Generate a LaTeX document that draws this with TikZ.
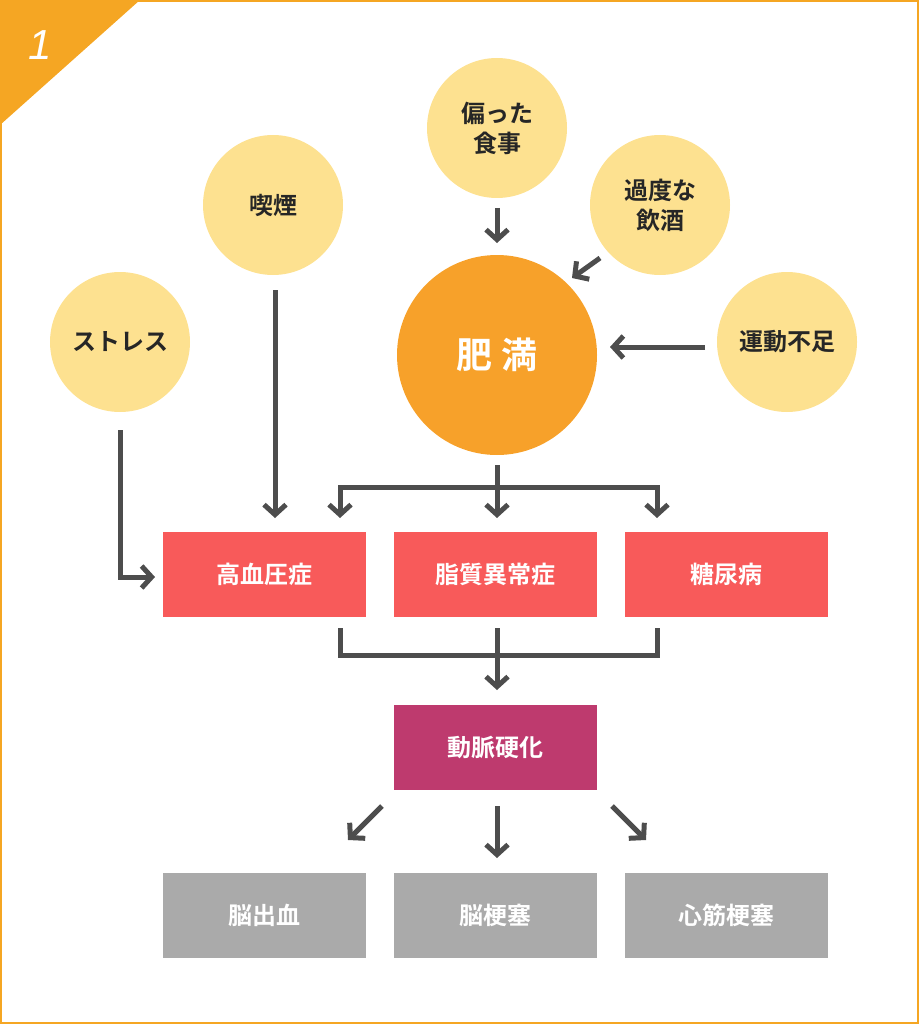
\documentclass[tikz,border=0pt]{standalone}
\usepackage{fontspec}
\setmainfont{Noto Sans CJK JP}[BoldFont={* Bold}]
\newfontfamily\numfont{Liberation Sans}
\usetikzlibrary{arrows.meta}
\definecolor{org}{HTML}{F5A623}
\definecolor{yel}{HTML}{FDE190}
\definecolor{fat}{HTML}{F7A12A}
\definecolor{red1}{HTML}{F85A5A}
\definecolor{vio}{HTML}{BE3A6E}
\definecolor{gry}{HTML}{AAAAAA}
\definecolor{arr}{HTML}{4D4D4D}
\begin{document}
\begin{tikzpicture}[x=1pt,y=-1pt,
 circ/.style={circle,fill=yel,minimum size=140pt,inner sep=0pt,align=center,font=\fontsize{24}{30}\selectfont\bfseries,text=black!85},
 box/.style={minimum width=203pt,minimum height=85pt,inner sep=0pt,font=\fontsize{24}{30}\selectfont\bfseries,text=white},
 ar/.style={draw=arr,line width=5pt,-{Straight Barb[length=10pt,width=22pt,line width=5pt]}},
 ln/.style={draw=arr,line width=5pt}]
\useasboundingbox (0,0) rectangle (919,1024);
\draw[org,line width=1.5pt] (1,1) rectangle (918,1023);
\fill[org] (0,0) -- (140,0) -- (0,125) -- cycle;
\node[text=white,font=\numfont\itshape\fontsize{42}{42}\selectfont] (one) at (40,45) {1};
\node[circ] (str) at (120,342) {ストレス};
\node[circ] (smk) at (273,205) {喫煙};
\node[circ] (diet) at (497,128) {偏った\\食事};
\node[circ] (alc) at (660,205) {過度な\\飲酒};
\node[circ] (exe) at (787,342) {運動不足};
\node[circle,fill=fat,minimum size=200pt,text=white,font=\fontsize{36}{40}\selectfont\bfseries] (fatn) at (497,355) {肥 満};
\node[box,fill=red1] (hyp) at (264.5,574.5) {高血圧症};
\node[box,fill=red1] (lip) at (495.5,574.5) {脂質異常症};
\node[box,fill=red1] (dia) at (726.5,574.5) {糖尿病};
\node[box,fill=vio] (ath) at (495.5,747.5) {動脈硬化};
\node[box,fill=gry] (g1) at (264.5,915.5) {脳出血};
\node[box,fill=gry] (g2) at (495.5,915.5) {脳梗塞};
\node[box,fill=gry] (g3) at (726.5,915.5) {心筋梗塞};
\coordinate (jn) at (497,487);
\coordinate (jb) at (497,655);
\draw[ar] (497,208) -- (497,243);
\draw[ar] (600,258) -- (572,278);
\draw[ar] (705,347) -- (610,347);
\draw[ar] (275,290) -- (275,518);
\draw[ar] (120,430) -- (120,577) -- (155,577);
\draw[ar] (497,465) -- (497,518);
\draw[ar] (jn) -| (340,518);
\draw[ar] (jn) -| (657,518);
\draw[ln] (340,628) |- (jb) -| (657,628);
\draw[ar] (497,628) -- (497,690);
\draw[ar] (382,806) -- (348,840);
\draw[ar] (497,806) -- (497,858);
\draw[ar] (612,806) -- (646,840);
\end{tikzpicture}
\end{document}
